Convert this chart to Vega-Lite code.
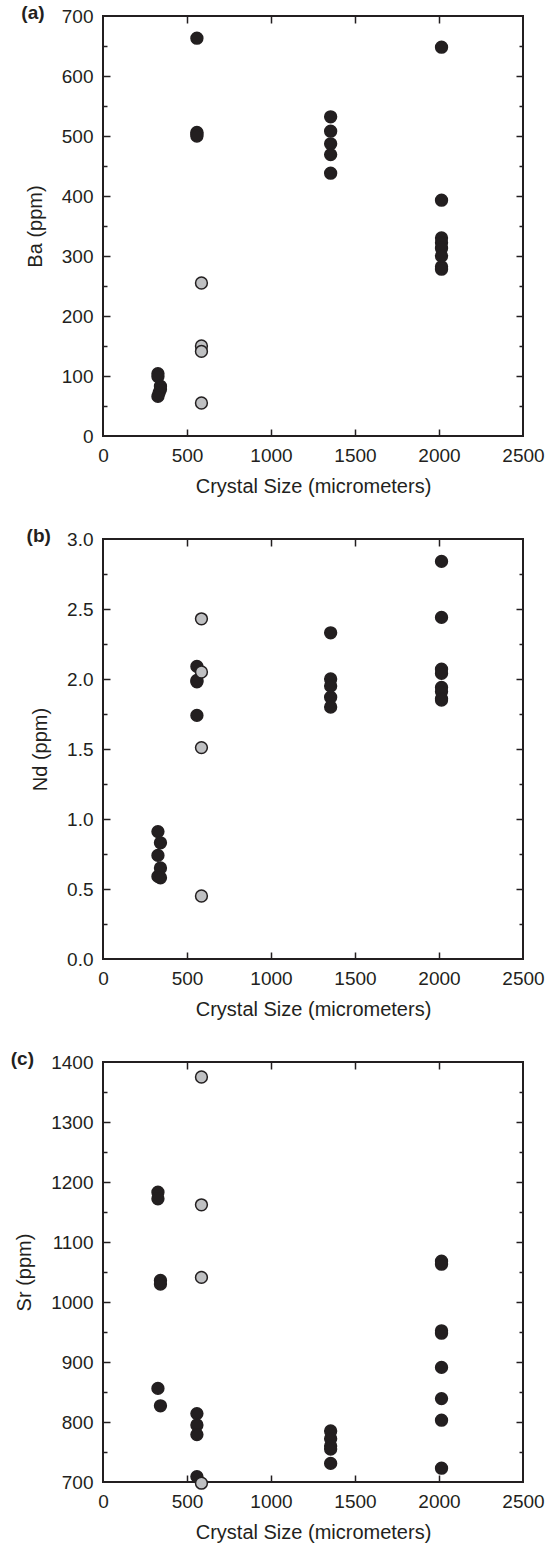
{
  "$schema": "https://vega.github.io/schema/vega-lite/v6.json",
  "background": "white",
  "padding": {"left": 9, "top": 3, "right": 5, "bottom": 5},
  "datasets": {
    "ba": [
      {"size": 327, "value": 104, "group": "black"},
      {"size": 327, "value": 99, "group": "black"},
      {"size": 342, "value": 83, "group": "black"},
      {"size": 342, "value": 78, "group": "black"},
      {"size": 334, "value": 72, "group": "black"},
      {"size": 327, "value": 66, "group": "black"},
      {"size": 559, "value": 663, "group": "black"},
      {"size": 559, "value": 506, "group": "black"},
      {"size": 559, "value": 503, "group": "black"},
      {"size": 559, "value": 500, "group": "black"},
      {"size": 1355, "value": 532, "group": "black"},
      {"size": 1355, "value": 508, "group": "black"},
      {"size": 1355, "value": 487, "group": "black"},
      {"size": 1355, "value": 469, "group": "black"},
      {"size": 1355, "value": 438, "group": "black"},
      {"size": 2015, "value": 648, "group": "black"},
      {"size": 2015, "value": 393, "group": "black"},
      {"size": 2015, "value": 330, "group": "black"},
      {"size": 2015, "value": 322, "group": "black"},
      {"size": 2015, "value": 313, "group": "black"},
      {"size": 2015, "value": 300, "group": "black"},
      {"size": 2015, "value": 282, "group": "black"},
      {"size": 2015, "value": 278, "group": "black"},
      {"size": 586, "value": 255, "group": "gray"},
      {"size": 586, "value": 150, "group": "gray"},
      {"size": 586, "value": 141, "group": "gray"},
      {"size": 586, "value": 55, "group": "gray"}
    ],
    "nd": [
      {"size": 327, "value": 0.91, "group": "black"},
      {"size": 342, "value": 0.83, "group": "black"},
      {"size": 327, "value": 0.74, "group": "black"},
      {"size": 342, "value": 0.65, "group": "black"},
      {"size": 327, "value": 0.59, "group": "black"},
      {"size": 342, "value": 0.58, "group": "black"},
      {"size": 559, "value": 2.09, "group": "black"},
      {"size": 559, "value": 1.99, "group": "black"},
      {"size": 559, "value": 1.98, "group": "black"},
      {"size": 559, "value": 1.74, "group": "black"},
      {"size": 1355, "value": 2.33, "group": "black"},
      {"size": 1355, "value": 2.0, "group": "black"},
      {"size": 1355, "value": 1.95, "group": "black"},
      {"size": 1355, "value": 1.87, "group": "black"},
      {"size": 1355, "value": 1.8, "group": "black"},
      {"size": 2015, "value": 2.84, "group": "black"},
      {"size": 2015, "value": 2.44, "group": "black"},
      {"size": 2015, "value": 2.07, "group": "black"},
      {"size": 2015, "value": 2.04, "group": "black"},
      {"size": 2015, "value": 1.94, "group": "black"},
      {"size": 2015, "value": 1.91, "group": "black"},
      {"size": 2015, "value": 1.86, "group": "black"},
      {"size": 2015, "value": 1.85, "group": "black"},
      {"size": 586, "value": 2.43, "group": "gray"},
      {"size": 586, "value": 2.05, "group": "gray"},
      {"size": 586, "value": 1.51, "group": "gray"},
      {"size": 586, "value": 0.45, "group": "gray"}
    ],
    "sr": [
      {"size": 327, "value": 1183, "group": "black"},
      {"size": 327, "value": 1172, "group": "black"},
      {"size": 342, "value": 1036, "group": "black"},
      {"size": 342, "value": 1030, "group": "black"},
      {"size": 327, "value": 856, "group": "black"},
      {"size": 342, "value": 827, "group": "black"},
      {"size": 559, "value": 814, "group": "black"},
      {"size": 559, "value": 795, "group": "black"},
      {"size": 559, "value": 779, "group": "black"},
      {"size": 559, "value": 709, "group": "black"},
      {"size": 1355, "value": 785, "group": "black"},
      {"size": 1355, "value": 772, "group": "black"},
      {"size": 1355, "value": 760, "group": "black"},
      {"size": 1355, "value": 755, "group": "black"},
      {"size": 1355, "value": 731, "group": "black"},
      {"size": 2015, "value": 1068, "group": "black"},
      {"size": 2015, "value": 1063, "group": "black"},
      {"size": 2015, "value": 952, "group": "black"},
      {"size": 2015, "value": 948, "group": "black"},
      {"size": 2015, "value": 891, "group": "black"},
      {"size": 2015, "value": 839, "group": "black"},
      {"size": 2015, "value": 803, "group": "black"},
      {"size": 2015, "value": 723, "group": "black"},
      {"size": 586, "value": 1375, "group": "gray"},
      {"size": 586, "value": 1162, "group": "gray"},
      {"size": 586, "value": 1041, "group": "gray"},
      {"size": 586, "value": 698, "group": "gray"}
    ]
  },
  "spacing": 29,
  "vconcat": [
    {
      "width": 420, "height": 420,
      "data": {"name": "ba"},
      "title": {"text": "(a)", "dy": 20, "dx": -4},
      "layer": [
        {
          "mark": {"type": "circle", "size": 140, "stroke": "#231f20", "strokeWidth": 1.5, "opacity": 1},
          "encoding": {
            "x": {"field": "size", "type": "quantitative", "scale": {"domain": [0, 2500], "nice": false},
                  "axis": {"orient": "bottom", "values": [0, 500, 1000, 1500, 2000, 2500], "format": "d", "ticks": false, "domain": false, "labelPadding": 10, "title": "Crystal Size (micrometers)", "titlePadding": 11}},
            "y": {"field": "value", "type": "quantitative", "scale": {"domain": [0, 700], "nice": false},
                  "axis": {"orient": "left", "values": [0, 100, 200, 300, 400, 500, 600, 700], "format": "d", "ticks": false, "domain": false, "labelPadding": 10, "title": "Ba (ppm)", "titlePadding": 16}},
            "fill": {"field": "group", "type": "nominal", "scale": {"domain": ["black", "gray"], "range": ["#231f20", "#bfc0c2"]}, "legend": null}
          }
        },
        {
          "mark": {"type": "circle", "opacity": 0},
          "encoding": {
            "x": {"field": "size", "type": "quantitative", "axis": {"orient": "top", "values": [500, 1000, 1500, 2000], "labels": false, "domain": false, "tickSize": -7, "title": null}},
            "y": {"field": "value", "type": "quantitative", "axis": {"orient": "right", "values": [100, 200, 300, 400, 500, 600], "labels": false, "domain": false, "tickSize": -7, "title": null}}
          }
        },
        {
          "mark": {"type": "circle", "opacity": 0},
          "encoding": {
            "x": {"field": "size", "type": "quantitative", "axis": {"orient": "bottom", "values": [500, 1000, 1500, 2000], "labels": false, "domain": false, "tickSize": -7, "title": null}},
            "y": {"field": "value", "type": "quantitative", "axis": {"orient": "left", "values": [100, 200, 300, 400, 500, 600], "labels": false, "domain": false, "tickSize": -7, "title": null}}
          }
        },
        {
          "mark": {"type": "circle", "opacity": 0},
          "encoding": {
            "x": {"field": "size", "type": "quantitative", "axis": null},
            "y": {"field": "value", "type": "quantitative", "axis": {"orient": "left", "values": [50, 150, 250, 350, 450, 550, 650], "labels": false, "domain": false, "tickSize": -4, "title": null}}
          }
        },
        {
          "mark": {"type": "circle", "opacity": 0},
          "encoding": {
            "x": {"field": "size", "type": "quantitative", "axis": null},
            "y": {"field": "value", "type": "quantitative", "axis": {"orient": "right", "values": [50, 150, 250, 350, 450, 550, 650], "labels": false, "domain": false, "tickSize": -4, "title": null}}
          }
        }
      ],
      "resolve": {"axis": {"x": "independent", "y": "independent"}}
    },
    {
      "width": 420, "height": 420,
      "data": {"name": "nd"},
      "title": {"text": "(b)", "dy": 20, "dx": -4},
      "layer": [
        {
          "mark": {"type": "circle", "size": 140, "stroke": "#231f20", "strokeWidth": 1.5, "opacity": 1},
          "encoding": {
            "x": {"field": "size", "type": "quantitative", "scale": {"domain": [0, 2500], "nice": false},
                  "axis": {"orient": "bottom", "values": [0, 500, 1000, 1500, 2000, 2500], "format": "d", "ticks": false, "domain": false, "labelPadding": 10, "title": "Crystal Size (micrometers)", "titlePadding": 11}},
            "y": {"field": "value", "type": "quantitative", "scale": {"domain": [0, 3], "nice": false},
                  "axis": {"orient": "left", "values": [0, 0.5, 1, 1.5, 2, 2.5, 3], "format": ".1f", "ticks": false, "domain": false, "labelPadding": 10, "title": "Nd (ppm)", "titlePadding": 16}},
            "fill": {"field": "group", "type": "nominal", "scale": {"domain": ["black", "gray"], "range": ["#231f20", "#bfc0c2"]}, "legend": null}
          }
        },
        {
          "mark": {"type": "circle", "opacity": 0},
          "encoding": {
            "x": {"field": "size", "type": "quantitative", "axis": {"orient": "top", "values": [500, 1000, 1500, 2000], "labels": false, "domain": false, "tickSize": -7, "title": null}},
            "y": {"field": "value", "type": "quantitative", "axis": {"orient": "right", "values": [0.5, 1, 1.5, 2, 2.5], "labels": false, "domain": false, "tickSize": -7, "title": null}}
          }
        },
        {
          "mark": {"type": "circle", "opacity": 0},
          "encoding": {
            "x": {"field": "size", "type": "quantitative", "axis": {"orient": "bottom", "values": [500, 1000, 1500, 2000], "labels": false, "domain": false, "tickSize": -7, "title": null}},
            "y": {"field": "value", "type": "quantitative", "axis": {"orient": "left", "values": [0.5, 1, 1.5, 2, 2.5], "labels": false, "domain": false, "tickSize": -7, "title": null}}
          }
        },
        {
          "mark": {"type": "circle", "opacity": 0},
          "encoding": {
            "x": {"field": "size", "type": "quantitative", "axis": null},
            "y": {"field": "value", "type": "quantitative", "axis": {"orient": "left", "values": [0.25, 0.75, 1.25, 1.75, 2.25, 2.75], "labels": false, "domain": false, "tickSize": -4, "title": null}}
          }
        },
        {
          "mark": {"type": "circle", "opacity": 0},
          "encoding": {
            "x": {"field": "size", "type": "quantitative", "axis": null},
            "y": {"field": "value", "type": "quantitative", "axis": {"orient": "right", "values": [0.25, 0.75, 1.25, 1.75, 2.25, 2.75], "labels": false, "domain": false, "tickSize": -4, "title": null}}
          }
        }
      ],
      "resolve": {"axis": {"x": "independent", "y": "independent"}}
    },
    {
      "width": 420, "height": 420,
      "data": {"name": "sr"},
      "title": {"text": "(c)", "dy": 20, "dx": -4},
      "layer": [
        {
          "mark": {"type": "circle", "size": 140, "stroke": "#231f20", "strokeWidth": 1.5, "opacity": 1},
          "encoding": {
            "x": {"field": "size", "type": "quantitative", "scale": {"domain": [0, 2500], "nice": false},
                  "axis": {"orient": "bottom", "values": [0, 500, 1000, 1500, 2000, 2500], "format": "d", "ticks": false, "domain": false, "labelPadding": 10, "title": "Crystal Size (micrometers)", "titlePadding": 11}},
            "y": {"field": "value", "type": "quantitative", "scale": {"domain": [700, 1400], "nice": false, "zero": false},
                  "axis": {"orient": "left", "values": [700, 800, 900, 1000, 1100, 1200, 1300, 1400], "format": "d", "ticks": false, "domain": false, "labelPadding": 10, "title": "Sr (ppm)", "titlePadding": 16}},
            "fill": {"field": "group", "type": "nominal", "scale": {"domain": ["black", "gray"], "range": ["#231f20", "#bfc0c2"]}, "legend": null}
          }
        },
        {
          "mark": {"type": "circle", "opacity": 0},
          "encoding": {
            "x": {"field": "size", "type": "quantitative", "axis": {"orient": "top", "values": [500, 1000, 1500, 2000], "labels": false, "domain": false, "tickSize": -7, "title": null}},
            "y": {"field": "value", "type": "quantitative", "axis": {"orient": "right", "values": [800, 900, 1000, 1100, 1200, 1300], "labels": false, "domain": false, "tickSize": -7, "title": null}}
          }
        },
        {
          "mark": {"type": "circle", "opacity": 0},
          "encoding": {
            "x": {"field": "size", "type": "quantitative", "axis": {"orient": "bottom", "values": [500, 1000, 1500, 2000], "labels": false, "domain": false, "tickSize": -7, "title": null}},
            "y": {"field": "value", "type": "quantitative", "axis": {"orient": "left", "values": [800, 900, 1000, 1100, 1200, 1300], "labels": false, "domain": false, "tickSize": -7, "title": null}}
          }
        },
        {
          "mark": {"type": "circle", "opacity": 0},
          "encoding": {
            "x": {"field": "size", "type": "quantitative", "axis": null},
            "y": {"field": "value", "type": "quantitative", "axis": {"orient": "left", "values": [750, 850, 950, 1050, 1150, 1250, 1350], "labels": false, "domain": false, "tickSize": -4, "title": null}}
          }
        },
        {
          "mark": {"type": "circle", "opacity": 0},
          "encoding": {
            "x": {"field": "size", "type": "quantitative", "axis": null},
            "y": {"field": "value", "type": "quantitative", "axis": {"orient": "right", "values": [750, 850, 950, 1050, 1150, 1250, 1350], "labels": false, "domain": false, "tickSize": -4, "title": null}}
          }
        }
      ],
      "resolve": {"axis": {"x": "independent", "y": "independent"}}
    }
  ],
  "config": {
    "view": {"stroke": "#231f20", "strokeWidth": 2},
    "axis": {
      "labelFont": "Liberation Sans", "labelFontSize": 19, "labelColor": "#231f20",
      "titleFont": "Liberation Sans", "titleFontSize": 20, "titleFontWeight": "normal", "titleColor": "#231f20",
      "tickColor": "#231f20", "tickWidth": 1.5, "grid": false, "labelFlush": false, "labelOverlap": false
    },
    "title": {"font": "Liberation Sans", "fontSize": 19, "fontWeight": "bold", "color": "#231f20", "anchor": "start", "frame": "bounds", "offset": 0}
  }
}
